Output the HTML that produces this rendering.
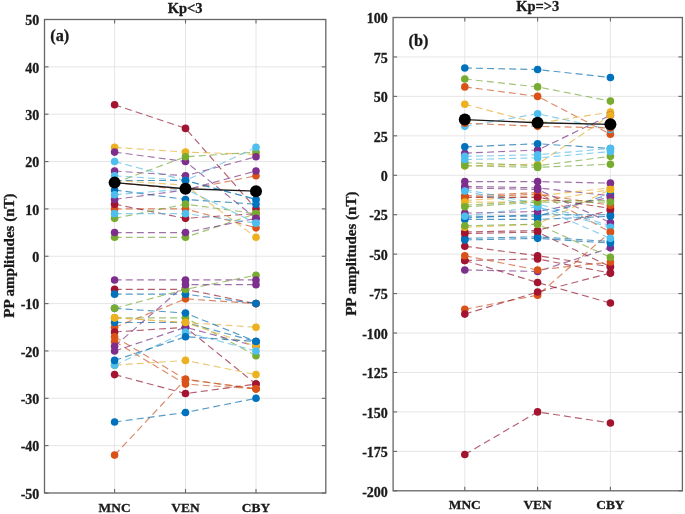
<!DOCTYPE html>
<html><head><meta charset="utf-8"><style>
html,body{margin:0;padding:0;background:#fff;}
body{width:685px;height:514px;overflow:hidden;}
svg{display:block;filter:blur(0.4px);}
text{font-family:"Liberation Serif",serif;font-weight:bold;fill:#1a1a1a;stroke:#1a1a1a;stroke-width:0.3px;}
</style></head><body>
<svg width="685" height="514" viewBox="0 0 685 514">
<rect width="685" height="514" fill="#fff"/>
<line x1="44.5" x2="325.8" y1="66.85" y2="66.85" stroke="#e6e6e6" stroke-width="1"/>
<line x1="44.5" x2="325.8" y1="114.20" y2="114.20" stroke="#e6e6e6" stroke-width="1"/>
<line x1="44.5" x2="325.8" y1="161.55" y2="161.55" stroke="#e6e6e6" stroke-width="1"/>
<line x1="44.5" x2="325.8" y1="208.90" y2="208.90" stroke="#e6e6e6" stroke-width="1"/>
<line x1="44.5" x2="325.8" y1="256.25" y2="256.25" stroke="#e6e6e6" stroke-width="1"/>
<line x1="44.5" x2="325.8" y1="303.60" y2="303.60" stroke="#e6e6e6" stroke-width="1"/>
<line x1="44.5" x2="325.8" y1="350.95" y2="350.95" stroke="#e6e6e6" stroke-width="1"/>
<line x1="44.5" x2="325.8" y1="398.30" y2="398.30" stroke="#e6e6e6" stroke-width="1"/>
<line x1="44.5" x2="325.8" y1="445.65" y2="445.65" stroke="#e6e6e6" stroke-width="1"/>
<line x1="114.6" x2="114.6" y1="19.5" y2="493.0" stroke="#e6e6e6" stroke-width="1"/>
<line x1="185.5" x2="185.5" y1="19.5" y2="493.0" stroke="#e6e6e6" stroke-width="1"/>
<line x1="256.0" x2="256.0" y1="19.5" y2="493.0" stroke="#e6e6e6" stroke-width="1"/>
<polyline points="114.6,104.73 185.5,128.41 256.0,208.90" fill="none" stroke="#941b32" stroke-width="1.15" stroke-dasharray="7 4.1" stroke-opacity="0.7"/>
<circle cx="114.6" cy="104.73" r="3.8" fill="#A2142F"/>
<circle cx="185.5" cy="128.41" r="3.8" fill="#A2142F"/>
<circle cx="256.0" cy="208.90" r="3.8" fill="#A2142F"/>
<polyline points="114.6,208.90 185.5,208.90 256.0,227.84" fill="none" stroke="#ca5827" stroke-width="1.15" stroke-dasharray="7 4.1" stroke-opacity="0.7"/>
<circle cx="114.6" cy="208.90" r="3.8" fill="#D95319"/>
<circle cx="185.5" cy="208.90" r="3.8" fill="#D95319"/>
<circle cx="256.0" cy="227.84" r="3.8" fill="#D95319"/>
<polyline points="114.6,147.34 185.5,152.08 256.0,154.45" fill="none" stroke="#e4b136" stroke-width="1.15" stroke-dasharray="7 4.1" stroke-opacity="0.7"/>
<circle cx="114.6" cy="147.34" r="3.8" fill="#EDB120"/>
<circle cx="185.5" cy="152.08" r="3.8" fill="#EDB120"/>
<circle cx="256.0" cy="154.45" r="3.8" fill="#EDB120"/>
<polyline points="114.6,152.08 185.5,161.55 256.0,218.37" fill="none" stroke="#773485" stroke-width="1.15" stroke-dasharray="7 4.1" stroke-opacity="0.7"/>
<circle cx="114.6" cy="152.08" r="3.8" fill="#7E2F8E"/>
<circle cx="185.5" cy="161.55" r="3.8" fill="#7E2F8E"/>
<circle cx="256.0" cy="218.37" r="3.8" fill="#7E2F8E"/>
<polyline points="114.6,182.86 185.5,156.81 256.0,152.08" fill="none" stroke="#7aa83e" stroke-width="1.15" stroke-dasharray="7 4.1" stroke-opacity="0.7"/>
<circle cx="114.6" cy="182.86" r="3.8" fill="#77AC30"/>
<circle cx="185.5" cy="156.81" r="3.8" fill="#77AC30"/>
<circle cx="256.0" cy="152.08" r="3.8" fill="#77AC30"/>
<polyline points="114.6,161.55 185.5,180.49 256.0,147.34" fill="none" stroke="#5abae3" stroke-width="1.15" stroke-dasharray="7 4.1" stroke-opacity="0.7"/>
<circle cx="114.6" cy="161.55" r="3.8" fill="#4DBEEE"/>
<circle cx="185.5" cy="180.49" r="3.8" fill="#4DBEEE"/>
<circle cx="256.0" cy="147.34" r="3.8" fill="#4DBEEE"/>
<polyline points="114.6,189.96 185.5,199.43 256.0,204.16" fill="none" stroke="#0d6eae" stroke-width="1.15" stroke-dasharray="7 4.1" stroke-opacity="0.7"/>
<circle cx="114.6" cy="189.96" r="3.8" fill="#0072BD"/>
<circle cx="185.5" cy="199.43" r="3.8" fill="#0072BD"/>
<circle cx="256.0" cy="204.16" r="3.8" fill="#0072BD"/>
<polyline points="114.6,204.16 185.5,218.37 256.0,213.63" fill="none" stroke="#941b32" stroke-width="1.15" stroke-dasharray="7 4.1" stroke-opacity="0.7"/>
<circle cx="114.6" cy="204.16" r="3.8" fill="#A2142F"/>
<circle cx="185.5" cy="218.37" r="3.8" fill="#A2142F"/>
<circle cx="256.0" cy="213.63" r="3.8" fill="#A2142F"/>
<polyline points="114.6,182.38 185.5,189.96 256.0,175.75" fill="none" stroke="#ca5827" stroke-width="1.15" stroke-dasharray="7 4.1" stroke-opacity="0.7"/>
<circle cx="114.6" cy="182.38" r="3.8" fill="#D95319"/>
<circle cx="185.5" cy="189.96" r="3.8" fill="#D95319"/>
<circle cx="256.0" cy="175.75" r="3.8" fill="#D95319"/>
<polyline points="114.6,180.49 185.5,185.22 256.0,237.31" fill="none" stroke="#e4b136" stroke-width="1.15" stroke-dasharray="7 4.1" stroke-opacity="0.7"/>
<circle cx="114.6" cy="180.49" r="3.8" fill="#EDB120"/>
<circle cx="185.5" cy="185.22" r="3.8" fill="#EDB120"/>
<circle cx="256.0" cy="237.31" r="3.8" fill="#EDB120"/>
<polyline points="114.6,171.02 185.5,175.75 256.0,156.81" fill="none" stroke="#773485" stroke-width="1.15" stroke-dasharray="7 4.1" stroke-opacity="0.7"/>
<circle cx="114.6" cy="171.02" r="3.8" fill="#7E2F8E"/>
<circle cx="185.5" cy="175.75" r="3.8" fill="#7E2F8E"/>
<circle cx="256.0" cy="156.81" r="3.8" fill="#7E2F8E"/>
<polyline points="114.6,218.37 185.5,204.16 256.0,213.63" fill="none" stroke="#7aa83e" stroke-width="1.15" stroke-dasharray="7 4.1" stroke-opacity="0.7"/>
<circle cx="114.6" cy="218.37" r="3.8" fill="#77AC30"/>
<circle cx="185.5" cy="204.16" r="3.8" fill="#77AC30"/>
<circle cx="256.0" cy="213.63" r="3.8" fill="#77AC30"/>
<polyline points="114.6,175.75 185.5,180.49 256.0,199.43" fill="none" stroke="#5abae3" stroke-width="1.15" stroke-dasharray="7 4.1" stroke-opacity="0.7"/>
<circle cx="114.6" cy="175.75" r="3.8" fill="#4DBEEE"/>
<circle cx="185.5" cy="180.49" r="3.8" fill="#4DBEEE"/>
<circle cx="256.0" cy="199.43" r="3.8" fill="#4DBEEE"/>
<polyline points="114.6,180.49 185.5,180.49 256.0,199.43" fill="none" stroke="#0d6eae" stroke-width="1.15" stroke-dasharray="7 4.1" stroke-opacity="0.7"/>
<circle cx="114.6" cy="180.49" r="3.8" fill="#0072BD"/>
<circle cx="185.5" cy="180.49" r="3.8" fill="#0072BD"/>
<circle cx="256.0" cy="199.43" r="3.8" fill="#0072BD"/>
<polyline points="114.6,289.39 185.5,289.39 256.0,303.60" fill="none" stroke="#941b32" stroke-width="1.15" stroke-dasharray="7 4.1" stroke-opacity="0.7"/>
<circle cx="114.6" cy="289.39" r="3.8" fill="#A2142F"/>
<circle cx="185.5" cy="289.39" r="3.8" fill="#A2142F"/>
<circle cx="256.0" cy="303.60" r="3.8" fill="#A2142F"/>
<polyline points="114.6,327.27 185.5,298.87 256.0,303.60" fill="none" stroke="#ca5827" stroke-width="1.15" stroke-dasharray="7 4.1" stroke-opacity="0.7"/>
<circle cx="114.6" cy="327.27" r="3.8" fill="#D95319"/>
<circle cx="185.5" cy="298.87" r="3.8" fill="#D95319"/>
<circle cx="256.0" cy="303.60" r="3.8" fill="#D95319"/>
<polyline points="114.6,322.54 185.5,322.54 256.0,341.48" fill="none" stroke="#0d6eae" stroke-width="1.15" stroke-dasharray="7 4.1" stroke-opacity="0.7"/>
<circle cx="114.6" cy="322.54" r="3.8" fill="#0072BD"/>
<circle cx="185.5" cy="322.54" r="3.8" fill="#0072BD"/>
<circle cx="256.0" cy="341.48" r="3.8" fill="#0072BD"/>
<polyline points="114.6,317.81 185.5,317.81 256.0,355.69" fill="none" stroke="#7aa83e" stroke-width="1.15" stroke-dasharray="7 4.1" stroke-opacity="0.7"/>
<circle cx="114.6" cy="317.81" r="3.8" fill="#77AC30"/>
<circle cx="185.5" cy="317.81" r="3.8" fill="#77AC30"/>
<circle cx="256.0" cy="355.69" r="3.8" fill="#77AC30"/>
<polyline points="114.6,317.81 185.5,322.54 256.0,327.27" fill="none" stroke="#e4b136" stroke-width="1.15" stroke-dasharray="7 4.1" stroke-opacity="0.7"/>
<circle cx="114.6" cy="317.81" r="3.8" fill="#EDB120"/>
<circle cx="185.5" cy="322.54" r="3.8" fill="#EDB120"/>
<circle cx="256.0" cy="327.27" r="3.8" fill="#EDB120"/>
<polyline points="114.6,199.43 185.5,189.96 256.0,171.02" fill="none" stroke="#773485" stroke-width="1.15" stroke-dasharray="7 4.1" stroke-opacity="0.7"/>
<circle cx="114.6" cy="199.43" r="3.8" fill="#7E2F8E"/>
<circle cx="185.5" cy="189.96" r="3.8" fill="#7E2F8E"/>
<circle cx="256.0" cy="171.02" r="3.8" fill="#7E2F8E"/>
<polyline points="114.6,237.31 185.5,237.31 256.0,213.63" fill="none" stroke="#7aa83e" stroke-width="1.15" stroke-dasharray="7 4.1" stroke-opacity="0.7"/>
<circle cx="114.6" cy="237.31" r="3.8" fill="#77AC30"/>
<circle cx="185.5" cy="237.31" r="3.8" fill="#77AC30"/>
<circle cx="256.0" cy="213.63" r="3.8" fill="#77AC30"/>
<polyline points="114.6,194.69 185.5,189.01 256.0,223.10" fill="none" stroke="#5abae3" stroke-width="1.15" stroke-dasharray="7 4.1" stroke-opacity="0.7"/>
<circle cx="114.6" cy="194.69" r="3.8" fill="#4DBEEE"/>
<circle cx="185.5" cy="189.01" r="3.8" fill="#4DBEEE"/>
<circle cx="256.0" cy="223.10" r="3.8" fill="#4DBEEE"/>
<polyline points="114.6,294.13 185.5,294.13 256.0,303.60" fill="none" stroke="#0d6eae" stroke-width="1.15" stroke-dasharray="7 4.1" stroke-opacity="0.7"/>
<circle cx="114.6" cy="294.13" r="3.8" fill="#0072BD"/>
<circle cx="185.5" cy="294.13" r="3.8" fill="#0072BD"/>
<circle cx="256.0" cy="303.60" r="3.8" fill="#0072BD"/>
<polyline points="114.6,332.01 185.5,327.27 256.0,384.10" fill="none" stroke="#941b32" stroke-width="1.15" stroke-dasharray="7 4.1" stroke-opacity="0.7"/>
<circle cx="114.6" cy="332.01" r="3.8" fill="#A2142F"/>
<circle cx="185.5" cy="327.27" r="3.8" fill="#A2142F"/>
<circle cx="256.0" cy="384.10" r="3.8" fill="#A2142F"/>
<polyline points="114.6,336.75 185.5,379.36 256.0,388.83" fill="none" stroke="#ca5827" stroke-width="1.15" stroke-dasharray="7 4.1" stroke-opacity="0.7"/>
<circle cx="114.6" cy="336.75" r="3.8" fill="#D95319"/>
<circle cx="185.5" cy="379.36" r="3.8" fill="#D95319"/>
<circle cx="256.0" cy="388.83" r="3.8" fill="#D95319"/>
<polyline points="114.6,365.15 185.5,360.42 256.0,374.62" fill="none" stroke="#e4b136" stroke-width="1.15" stroke-dasharray="7 4.1" stroke-opacity="0.7"/>
<circle cx="114.6" cy="365.15" r="3.8" fill="#EDB120"/>
<circle cx="185.5" cy="360.42" r="3.8" fill="#EDB120"/>
<circle cx="256.0" cy="374.62" r="3.8" fill="#EDB120"/>
<polyline points="114.6,232.57 185.5,232.57 256.0,218.37" fill="none" stroke="#773485" stroke-width="1.15" stroke-dasharray="7 4.1" stroke-opacity="0.7"/>
<circle cx="114.6" cy="232.57" r="3.8" fill="#7E2F8E"/>
<circle cx="185.5" cy="232.57" r="3.8" fill="#7E2F8E"/>
<circle cx="256.0" cy="218.37" r="3.8" fill="#7E2F8E"/>
<polyline points="114.6,308.33 185.5,313.07 256.0,341.48" fill="none" stroke="#0d6eae" stroke-width="1.15" stroke-dasharray="7 4.1" stroke-opacity="0.7"/>
<circle cx="114.6" cy="308.33" r="3.8" fill="#0072BD"/>
<circle cx="185.5" cy="313.07" r="3.8" fill="#0072BD"/>
<circle cx="256.0" cy="341.48" r="3.8" fill="#0072BD"/>
<polyline points="114.6,308.33 185.5,289.39 256.0,275.19" fill="none" stroke="#7aa83e" stroke-width="1.15" stroke-dasharray="7 4.1" stroke-opacity="0.7"/>
<circle cx="114.6" cy="308.33" r="3.8" fill="#77AC30"/>
<circle cx="185.5" cy="289.39" r="3.8" fill="#77AC30"/>
<circle cx="256.0" cy="275.19" r="3.8" fill="#77AC30"/>
<polyline points="114.6,213.63 185.5,213.63 256.0,223.10" fill="none" stroke="#5abae3" stroke-width="1.15" stroke-dasharray="7 4.1" stroke-opacity="0.7"/>
<circle cx="114.6" cy="213.63" r="3.8" fill="#4DBEEE"/>
<circle cx="185.5" cy="213.63" r="3.8" fill="#4DBEEE"/>
<circle cx="256.0" cy="223.10" r="3.8" fill="#4DBEEE"/>
<polyline points="114.6,374.62 185.5,393.56 256.0,384.10" fill="none" stroke="#941b32" stroke-width="1.15" stroke-dasharray="7 4.1" stroke-opacity="0.7"/>
<circle cx="114.6" cy="374.62" r="3.8" fill="#A2142F"/>
<circle cx="185.5" cy="393.56" r="3.8" fill="#A2142F"/>
<circle cx="256.0" cy="384.10" r="3.8" fill="#A2142F"/>
<polyline points="114.6,341.48 185.5,384.10 256.0,388.83" fill="none" stroke="#ca5827" stroke-width="1.15" stroke-dasharray="7 4.1" stroke-opacity="0.7"/>
<circle cx="114.6" cy="341.48" r="3.8" fill="#D95319"/>
<circle cx="185.5" cy="384.10" r="3.8" fill="#D95319"/>
<circle cx="256.0" cy="388.83" r="3.8" fill="#D95319"/>
<polyline points="114.6,350.95 185.5,327.27 256.0,346.21" fill="none" stroke="#773485" stroke-width="1.15" stroke-dasharray="7 4.1" stroke-opacity="0.7"/>
<circle cx="114.6" cy="350.95" r="3.8" fill="#7E2F8E"/>
<circle cx="185.5" cy="327.27" r="3.8" fill="#7E2F8E"/>
<circle cx="256.0" cy="346.21" r="3.8" fill="#7E2F8E"/>
<polyline points="114.6,317.81 185.5,322.54 256.0,346.21" fill="none" stroke="#e4b136" stroke-width="1.15" stroke-dasharray="7 4.1" stroke-opacity="0.7"/>
<circle cx="114.6" cy="317.81" r="3.8" fill="#EDB120"/>
<circle cx="185.5" cy="322.54" r="3.8" fill="#EDB120"/>
<circle cx="256.0" cy="346.21" r="3.8" fill="#EDB120"/>
<polyline points="114.6,279.93 185.5,279.93 256.0,279.93" fill="none" stroke="#773485" stroke-width="1.15" stroke-dasharray="7 4.1" stroke-opacity="0.7"/>
<circle cx="114.6" cy="279.93" r="3.8" fill="#7E2F8E"/>
<circle cx="185.5" cy="279.93" r="3.8" fill="#7E2F8E"/>
<circle cx="256.0" cy="279.93" r="3.8" fill="#7E2F8E"/>
<polyline points="114.6,365.15 185.5,332.01 256.0,350.95" fill="none" stroke="#5abae3" stroke-width="1.15" stroke-dasharray="7 4.1" stroke-opacity="0.7"/>
<circle cx="114.6" cy="365.15" r="3.8" fill="#4DBEEE"/>
<circle cx="185.5" cy="332.01" r="3.8" fill="#4DBEEE"/>
<circle cx="256.0" cy="350.95" r="3.8" fill="#4DBEEE"/>
<polyline points="114.6,360.42 185.5,336.75 256.0,341.48" fill="none" stroke="#0d6eae" stroke-width="1.15" stroke-dasharray="7 4.1" stroke-opacity="0.7"/>
<circle cx="114.6" cy="360.42" r="3.8" fill="#0072BD"/>
<circle cx="185.5" cy="336.75" r="3.8" fill="#0072BD"/>
<circle cx="256.0" cy="341.48" r="3.8" fill="#0072BD"/>
<polyline points="114.6,455.12 185.5,379.36 256.0,388.83" fill="none" stroke="#ca5827" stroke-width="1.15" stroke-dasharray="7 4.1" stroke-opacity="0.7"/>
<circle cx="114.6" cy="455.12" r="3.8" fill="#D95319"/>
<circle cx="185.5" cy="379.36" r="3.8" fill="#D95319"/>
<circle cx="256.0" cy="388.83" r="3.8" fill="#D95319"/>
<polyline points="114.6,346.21 185.5,284.66 256.0,284.66" fill="none" stroke="#773485" stroke-width="1.15" stroke-dasharray="7 4.1" stroke-opacity="0.7"/>
<circle cx="114.6" cy="346.21" r="3.8" fill="#7E2F8E"/>
<circle cx="185.5" cy="284.66" r="3.8" fill="#7E2F8E"/>
<circle cx="256.0" cy="284.66" r="3.8" fill="#7E2F8E"/>
<polyline points="114.6,421.98 185.5,412.50 256.0,398.30" fill="none" stroke="#0d6eae" stroke-width="1.15" stroke-dasharray="7 4.1" stroke-opacity="0.7"/>
<circle cx="114.6" cy="421.98" r="3.8" fill="#0072BD"/>
<circle cx="185.5" cy="412.50" r="3.8" fill="#0072BD"/>
<circle cx="256.0" cy="398.30" r="3.8" fill="#0072BD"/>
<polyline points="114.6,182.62 185.5,188.78 256.0,191.14" fill="none" stroke="#1a1a1a" stroke-width="1.35"/>
<circle cx="114.6" cy="182.62" r="6.0" fill="#000"/>
<circle cx="185.5" cy="188.78" r="6.0" fill="#000"/>
<circle cx="256.0" cy="191.14" r="6.0" fill="#000"/>
<line x1="44.5" x2="48.5" y1="19.50" y2="19.50" stroke="#666666" stroke-width="1.1"/>
<line x1="321.8" x2="325.8" y1="19.50" y2="19.50" stroke="#666666" stroke-width="1.1"/>
<line x1="44.5" x2="48.5" y1="66.85" y2="66.85" stroke="#666666" stroke-width="1.1"/>
<line x1="321.8" x2="325.8" y1="66.85" y2="66.85" stroke="#666666" stroke-width="1.1"/>
<line x1="44.5" x2="48.5" y1="114.20" y2="114.20" stroke="#666666" stroke-width="1.1"/>
<line x1="321.8" x2="325.8" y1="114.20" y2="114.20" stroke="#666666" stroke-width="1.1"/>
<line x1="44.5" x2="48.5" y1="161.55" y2="161.55" stroke="#666666" stroke-width="1.1"/>
<line x1="321.8" x2="325.8" y1="161.55" y2="161.55" stroke="#666666" stroke-width="1.1"/>
<line x1="44.5" x2="48.5" y1="208.90" y2="208.90" stroke="#666666" stroke-width="1.1"/>
<line x1="321.8" x2="325.8" y1="208.90" y2="208.90" stroke="#666666" stroke-width="1.1"/>
<line x1="44.5" x2="48.5" y1="256.25" y2="256.25" stroke="#666666" stroke-width="1.1"/>
<line x1="321.8" x2="325.8" y1="256.25" y2="256.25" stroke="#666666" stroke-width="1.1"/>
<line x1="44.5" x2="48.5" y1="303.60" y2="303.60" stroke="#666666" stroke-width="1.1"/>
<line x1="321.8" x2="325.8" y1="303.60" y2="303.60" stroke="#666666" stroke-width="1.1"/>
<line x1="44.5" x2="48.5" y1="350.95" y2="350.95" stroke="#666666" stroke-width="1.1"/>
<line x1="321.8" x2="325.8" y1="350.95" y2="350.95" stroke="#666666" stroke-width="1.1"/>
<line x1="44.5" x2="48.5" y1="398.30" y2="398.30" stroke="#666666" stroke-width="1.1"/>
<line x1="321.8" x2="325.8" y1="398.30" y2="398.30" stroke="#666666" stroke-width="1.1"/>
<line x1="44.5" x2="48.5" y1="445.65" y2="445.65" stroke="#666666" stroke-width="1.1"/>
<line x1="321.8" x2="325.8" y1="445.65" y2="445.65" stroke="#666666" stroke-width="1.1"/>
<line x1="44.5" x2="48.5" y1="493.00" y2="493.00" stroke="#666666" stroke-width="1.1"/>
<line x1="321.8" x2="325.8" y1="493.00" y2="493.00" stroke="#666666" stroke-width="1.1"/>
<line x1="114.6" x2="114.6" y1="489.0" y2="493.0" stroke="#666666" stroke-width="1.1"/>
<line x1="114.6" x2="114.6" y1="19.5" y2="23.5" stroke="#666666" stroke-width="1.1"/>
<line x1="185.5" x2="185.5" y1="489.0" y2="493.0" stroke="#666666" stroke-width="1.1"/>
<line x1="185.5" x2="185.5" y1="19.5" y2="23.5" stroke="#666666" stroke-width="1.1"/>
<line x1="256.0" x2="256.0" y1="489.0" y2="493.0" stroke="#666666" stroke-width="1.1"/>
<line x1="256.0" x2="256.0" y1="19.5" y2="23.5" stroke="#666666" stroke-width="1.1"/>
<rect x="44.5" y="19.5" width="281.30" height="473.50" fill="none" stroke="#666666" stroke-width="1.3"/>
<text x="39.3" y="25.20" text-anchor="end" font-size="14">50</text>
<text x="39.3" y="72.55" text-anchor="end" font-size="14">40</text>
<text x="39.3" y="119.90" text-anchor="end" font-size="14">30</text>
<text x="39.3" y="167.25" text-anchor="end" font-size="14">20</text>
<text x="39.3" y="214.60" text-anchor="end" font-size="14">10</text>
<text x="39.3" y="261.95" text-anchor="end" font-size="14">0</text>
<text x="39.3" y="309.30" text-anchor="end" font-size="14">-10</text>
<text x="39.3" y="356.65" text-anchor="end" font-size="14">-20</text>
<text x="39.3" y="404.00" text-anchor="end" font-size="14">-30</text>
<text x="39.3" y="451.35" text-anchor="end" font-size="14">-40</text>
<text x="39.3" y="498.70" text-anchor="end" font-size="14">-50</text>
<text x="114.6" y="511.50" text-anchor="middle" font-size="13.4">MNC</text>
<text x="185.5" y="511.50" text-anchor="middle" font-size="13.4">VEN</text>
<text x="256.0" y="511.50" text-anchor="middle" font-size="13.4">CBY</text>
<text x="185.15" y="13.30" text-anchor="middle" font-size="14.5">Kp&lt;3</text>
<text x="50.3" y="41.2" font-size="16.3">(a)</text>
<text transform="translate(13.9,255.6) rotate(-90)" text-anchor="middle" font-size="15">PP amplitudes (nT)</text>
<line x1="393.1" x2="682.4" y1="56.94" y2="56.94" stroke="#e6e6e6" stroke-width="1"/>
<line x1="393.1" x2="682.4" y1="96.38" y2="96.38" stroke="#e6e6e6" stroke-width="1"/>
<line x1="393.1" x2="682.4" y1="135.82" y2="135.82" stroke="#e6e6e6" stroke-width="1"/>
<line x1="393.1" x2="682.4" y1="175.27" y2="175.27" stroke="#e6e6e6" stroke-width="1"/>
<line x1="393.1" x2="682.4" y1="214.71" y2="214.71" stroke="#e6e6e6" stroke-width="1"/>
<line x1="393.1" x2="682.4" y1="254.15" y2="254.15" stroke="#e6e6e6" stroke-width="1"/>
<line x1="393.1" x2="682.4" y1="293.59" y2="293.59" stroke="#e6e6e6" stroke-width="1"/>
<line x1="393.1" x2="682.4" y1="333.03" y2="333.03" stroke="#e6e6e6" stroke-width="1"/>
<line x1="393.1" x2="682.4" y1="372.48" y2="372.48" stroke="#e6e6e6" stroke-width="1"/>
<line x1="393.1" x2="682.4" y1="411.92" y2="411.92" stroke="#e6e6e6" stroke-width="1"/>
<line x1="393.1" x2="682.4" y1="451.36" y2="451.36" stroke="#e6e6e6" stroke-width="1"/>
<line x1="464.8" x2="464.8" y1="17.5" y2="490.8" stroke="#e6e6e6" stroke-width="1"/>
<line x1="537.6" x2="537.6" y1="17.5" y2="490.8" stroke="#e6e6e6" stroke-width="1"/>
<line x1="610.4" x2="610.4" y1="17.5" y2="490.8" stroke="#e6e6e6" stroke-width="1"/>
<polyline points="464.8,195.78 537.6,192.62 610.4,232.06" fill="none" stroke="#ca5827" stroke-width="1.15" stroke-dasharray="7 4.1" stroke-opacity="0.7"/>
<circle cx="464.8" cy="195.78" r="3.8" fill="#D95319"/>
<circle cx="537.6" cy="192.62" r="3.8" fill="#D95319"/>
<circle cx="610.4" cy="232.06" r="3.8" fill="#D95319"/>
<polyline points="464.8,189.47 537.6,203.66 610.4,225.75" fill="none" stroke="#5abae3" stroke-width="1.15" stroke-dasharray="7 4.1" stroke-opacity="0.7"/>
<circle cx="464.8" cy="189.47" r="3.8" fill="#4DBEEE"/>
<circle cx="537.6" cy="203.66" r="3.8" fill="#4DBEEE"/>
<circle cx="610.4" cy="225.75" r="3.8" fill="#4DBEEE"/>
<polyline points="464.8,217.86 537.6,214.71 610.4,214.71" fill="none" stroke="#0d6eae" stroke-width="1.15" stroke-dasharray="7 4.1" stroke-opacity="0.7"/>
<circle cx="464.8" cy="217.86" r="3.8" fill="#0072BD"/>
<circle cx="537.6" cy="214.71" r="3.8" fill="#0072BD"/>
<circle cx="610.4" cy="214.71" r="3.8" fill="#0072BD"/>
<polyline points="464.8,205.24 537.6,200.51 610.4,200.51" fill="none" stroke="#7aa83e" stroke-width="1.15" stroke-dasharray="7 4.1" stroke-opacity="0.7"/>
<circle cx="464.8" cy="205.24" r="3.8" fill="#77AC30"/>
<circle cx="537.6" cy="200.51" r="3.8" fill="#77AC30"/>
<circle cx="610.4" cy="200.51" r="3.8" fill="#77AC30"/>
<polyline points="464.8,186.31 537.6,187.89 610.4,195.78" fill="none" stroke="#773485" stroke-width="1.15" stroke-dasharray="7 4.1" stroke-opacity="0.7"/>
<circle cx="464.8" cy="186.31" r="3.8" fill="#7E2F8E"/>
<circle cx="537.6" cy="187.89" r="3.8" fill="#7E2F8E"/>
<circle cx="610.4" cy="195.78" r="3.8" fill="#7E2F8E"/>
<polyline points="464.8,200.51 537.6,195.78 610.4,187.89" fill="none" stroke="#e4b136" stroke-width="1.15" stroke-dasharray="7 4.1" stroke-opacity="0.7"/>
<circle cx="464.8" cy="200.51" r="3.8" fill="#EDB120"/>
<circle cx="537.6" cy="195.78" r="3.8" fill="#EDB120"/>
<circle cx="610.4" cy="187.89" r="3.8" fill="#EDB120"/>
<polyline points="464.8,232.06 537.6,230.49 610.4,209.98" fill="none" stroke="#941b32" stroke-width="1.15" stroke-dasharray="7 4.1" stroke-opacity="0.7"/>
<circle cx="464.8" cy="232.06" r="3.8" fill="#A2142F"/>
<circle cx="537.6" cy="230.49" r="3.8" fill="#A2142F"/>
<circle cx="610.4" cy="209.98" r="3.8" fill="#A2142F"/>
<polyline points="464.8,238.37 537.6,236.80 610.4,241.53" fill="none" stroke="#0d6eae" stroke-width="1.15" stroke-dasharray="7 4.1" stroke-opacity="0.7"/>
<circle cx="464.8" cy="238.37" r="3.8" fill="#0072BD"/>
<circle cx="537.6" cy="236.80" r="3.8" fill="#0072BD"/>
<circle cx="610.4" cy="241.53" r="3.8" fill="#0072BD"/>
<polyline points="464.8,67.99 537.6,69.56 610.4,77.45" fill="none" stroke="#0d6eae" stroke-width="1.15" stroke-dasharray="7 4.1" stroke-opacity="0.7"/>
<circle cx="464.8" cy="67.99" r="3.8" fill="#0072BD"/>
<circle cx="537.6" cy="69.56" r="3.8" fill="#0072BD"/>
<circle cx="610.4" cy="77.45" r="3.8" fill="#0072BD"/>
<polyline points="464.8,86.92 537.6,96.38 610.4,134.25" fill="none" stroke="#ca5827" stroke-width="1.15" stroke-dasharray="7 4.1" stroke-opacity="0.7"/>
<circle cx="464.8" cy="86.92" r="3.8" fill="#D95319"/>
<circle cx="537.6" cy="96.38" r="3.8" fill="#D95319"/>
<circle cx="610.4" cy="134.25" r="3.8" fill="#D95319"/>
<polyline points="464.8,104.27 537.6,123.20 610.4,112.16" fill="none" stroke="#e4b136" stroke-width="1.15" stroke-dasharray="7 4.1" stroke-opacity="0.7"/>
<circle cx="464.8" cy="104.27" r="3.8" fill="#EDB120"/>
<circle cx="537.6" cy="123.20" r="3.8" fill="#EDB120"/>
<circle cx="610.4" cy="112.16" r="3.8" fill="#EDB120"/>
<polyline points="464.8,153.18 537.6,150.02 610.4,115.32" fill="none" stroke="#773485" stroke-width="1.15" stroke-dasharray="7 4.1" stroke-opacity="0.7"/>
<circle cx="464.8" cy="153.18" r="3.8" fill="#7E2F8E"/>
<circle cx="537.6" cy="150.02" r="3.8" fill="#7E2F8E"/>
<circle cx="610.4" cy="115.32" r="3.8" fill="#7E2F8E"/>
<polyline points="464.8,79.03 537.6,86.92 610.4,101.12" fill="none" stroke="#7aa83e" stroke-width="1.15" stroke-dasharray="7 4.1" stroke-opacity="0.7"/>
<circle cx="464.8" cy="79.03" r="3.8" fill="#77AC30"/>
<circle cx="537.6" cy="86.92" r="3.8" fill="#77AC30"/>
<circle cx="610.4" cy="101.12" r="3.8" fill="#77AC30"/>
<polyline points="464.8,126.36 537.6,113.74 610.4,129.51" fill="none" stroke="#5abae3" stroke-width="1.15" stroke-dasharray="7 4.1" stroke-opacity="0.7"/>
<circle cx="464.8" cy="126.36" r="3.8" fill="#4DBEEE"/>
<circle cx="537.6" cy="113.74" r="3.8" fill="#4DBEEE"/>
<circle cx="610.4" cy="129.51" r="3.8" fill="#4DBEEE"/>
<polyline points="464.8,233.64 537.6,232.06 610.4,266.77" fill="none" stroke="#941b32" stroke-width="1.15" stroke-dasharray="7 4.1" stroke-opacity="0.7"/>
<circle cx="464.8" cy="233.64" r="3.8" fill="#A2142F"/>
<circle cx="537.6" cy="232.06" r="3.8" fill="#A2142F"/>
<circle cx="610.4" cy="266.77" r="3.8" fill="#A2142F"/>
<polyline points="464.8,146.87 537.6,143.71 610.4,148.45" fill="none" stroke="#0d6eae" stroke-width="1.15" stroke-dasharray="7 4.1" stroke-opacity="0.7"/>
<circle cx="464.8" cy="146.87" r="3.8" fill="#0072BD"/>
<circle cx="537.6" cy="143.71" r="3.8" fill="#0072BD"/>
<circle cx="610.4" cy="148.45" r="3.8" fill="#0072BD"/>
<polyline points="464.8,123.20 537.6,126.36 610.4,127.94" fill="none" stroke="#ca5827" stroke-width="1.15" stroke-dasharray="7 4.1" stroke-opacity="0.7"/>
<circle cx="464.8" cy="123.20" r="3.8" fill="#D95319"/>
<circle cx="537.6" cy="126.36" r="3.8" fill="#D95319"/>
<circle cx="610.4" cy="127.94" r="3.8" fill="#D95319"/>
<polyline points="464.8,165.80 537.6,164.22 610.4,115.32" fill="none" stroke="#e4b136" stroke-width="1.15" stroke-dasharray="7 4.1" stroke-opacity="0.7"/>
<circle cx="464.8" cy="165.80" r="3.8" fill="#EDB120"/>
<circle cx="537.6" cy="164.22" r="3.8" fill="#EDB120"/>
<circle cx="610.4" cy="115.32" r="3.8" fill="#EDB120"/>
<polyline points="464.8,181.58 537.6,181.58 610.4,183.16" fill="none" stroke="#773485" stroke-width="1.15" stroke-dasharray="7 4.1" stroke-opacity="0.7"/>
<circle cx="464.8" cy="181.58" r="3.8" fill="#7E2F8E"/>
<circle cx="537.6" cy="181.58" r="3.8" fill="#7E2F8E"/>
<circle cx="610.4" cy="183.16" r="3.8" fill="#7E2F8E"/>
<polyline points="464.8,165.80 537.6,167.38 610.4,164.22" fill="none" stroke="#7aa83e" stroke-width="1.15" stroke-dasharray="7 4.1" stroke-opacity="0.7"/>
<circle cx="464.8" cy="165.80" r="3.8" fill="#77AC30"/>
<circle cx="537.6" cy="167.38" r="3.8" fill="#77AC30"/>
<circle cx="610.4" cy="164.22" r="3.8" fill="#77AC30"/>
<polyline points="464.8,156.33 537.6,154.76 610.4,148.45" fill="none" stroke="#5abae3" stroke-width="1.15" stroke-dasharray="7 4.1" stroke-opacity="0.7"/>
<circle cx="464.8" cy="156.33" r="3.8" fill="#4DBEEE"/>
<circle cx="537.6" cy="154.76" r="3.8" fill="#4DBEEE"/>
<circle cx="610.4" cy="148.45" r="3.8" fill="#4DBEEE"/>
<polyline points="464.8,246.26 537.6,255.73 610.4,266.77" fill="none" stroke="#941b32" stroke-width="1.15" stroke-dasharray="7 4.1" stroke-opacity="0.7"/>
<circle cx="464.8" cy="246.26" r="3.8" fill="#A2142F"/>
<circle cx="537.6" cy="255.73" r="3.8" fill="#A2142F"/>
<circle cx="610.4" cy="266.77" r="3.8" fill="#A2142F"/>
<polyline points="464.8,216.29 537.6,216.29 610.4,194.20" fill="none" stroke="#0d6eae" stroke-width="1.15" stroke-dasharray="7 4.1" stroke-opacity="0.7"/>
<circle cx="464.8" cy="216.29" r="3.8" fill="#0072BD"/>
<circle cx="537.6" cy="216.29" r="3.8" fill="#0072BD"/>
<circle cx="610.4" cy="194.20" r="3.8" fill="#0072BD"/>
<polyline points="464.8,197.35 537.6,197.35 610.4,208.40" fill="none" stroke="#941b32" stroke-width="1.15" stroke-dasharray="7 4.1" stroke-opacity="0.7"/>
<circle cx="464.8" cy="197.35" r="3.8" fill="#A2142F"/>
<circle cx="537.6" cy="197.35" r="3.8" fill="#A2142F"/>
<circle cx="610.4" cy="208.40" r="3.8" fill="#A2142F"/>
<polyline points="464.8,197.35 537.6,194.20 610.4,205.24" fill="none" stroke="#ca5827" stroke-width="1.15" stroke-dasharray="7 4.1" stroke-opacity="0.7"/>
<circle cx="464.8" cy="197.35" r="3.8" fill="#D95319"/>
<circle cx="537.6" cy="194.20" r="3.8" fill="#D95319"/>
<circle cx="610.4" cy="205.24" r="3.8" fill="#D95319"/>
<polyline points="464.8,202.09 537.6,202.09 610.4,189.47" fill="none" stroke="#e4b136" stroke-width="1.15" stroke-dasharray="7 4.1" stroke-opacity="0.7"/>
<circle cx="464.8" cy="202.09" r="3.8" fill="#EDB120"/>
<circle cx="537.6" cy="202.09" r="3.8" fill="#EDB120"/>
<circle cx="610.4" cy="189.47" r="3.8" fill="#EDB120"/>
<polyline points="464.8,187.89 537.6,189.47 610.4,222.60" fill="none" stroke="#773485" stroke-width="1.15" stroke-dasharray="7 4.1" stroke-opacity="0.7"/>
<circle cx="464.8" cy="187.89" r="3.8" fill="#7E2F8E"/>
<circle cx="537.6" cy="189.47" r="3.8" fill="#7E2F8E"/>
<circle cx="610.4" cy="222.60" r="3.8" fill="#7E2F8E"/>
<polyline points="464.8,162.65 537.6,165.80 610.4,156.33" fill="none" stroke="#7aa83e" stroke-width="1.15" stroke-dasharray="7 4.1" stroke-opacity="0.7"/>
<circle cx="464.8" cy="162.65" r="3.8" fill="#77AC30"/>
<circle cx="537.6" cy="165.80" r="3.8" fill="#77AC30"/>
<circle cx="610.4" cy="156.33" r="3.8" fill="#77AC30"/>
<polyline points="464.8,159.49 537.6,157.91 610.4,151.60" fill="none" stroke="#5abae3" stroke-width="1.15" stroke-dasharray="7 4.1" stroke-opacity="0.7"/>
<circle cx="464.8" cy="159.49" r="3.8" fill="#4DBEEE"/>
<circle cx="537.6" cy="157.91" r="3.8" fill="#4DBEEE"/>
<circle cx="610.4" cy="151.60" r="3.8" fill="#4DBEEE"/>
<polyline points="464.8,260.46 537.6,282.55 610.4,303.06" fill="none" stroke="#941b32" stroke-width="1.15" stroke-dasharray="7 4.1" stroke-opacity="0.7"/>
<circle cx="464.8" cy="260.46" r="3.8" fill="#A2142F"/>
<circle cx="537.6" cy="282.55" r="3.8" fill="#A2142F"/>
<circle cx="610.4" cy="303.06" r="3.8" fill="#A2142F"/>
<polyline points="464.8,219.44 537.6,219.44 610.4,216.29" fill="none" stroke="#0d6eae" stroke-width="1.15" stroke-dasharray="7 4.1" stroke-opacity="0.7"/>
<circle cx="464.8" cy="219.44" r="3.8" fill="#0072BD"/>
<circle cx="537.6" cy="219.44" r="3.8" fill="#0072BD"/>
<circle cx="610.4" cy="216.29" r="3.8" fill="#0072BD"/>
<polyline points="464.8,260.46 537.6,258.88 610.4,273.08" fill="none" stroke="#941b32" stroke-width="1.15" stroke-dasharray="7 4.1" stroke-opacity="0.7"/>
<circle cx="464.8" cy="260.46" r="3.8" fill="#A2142F"/>
<circle cx="537.6" cy="258.88" r="3.8" fill="#A2142F"/>
<circle cx="610.4" cy="273.08" r="3.8" fill="#A2142F"/>
<polyline points="464.8,269.93 537.6,271.50 610.4,247.84" fill="none" stroke="#773485" stroke-width="1.15" stroke-dasharray="7 4.1" stroke-opacity="0.7"/>
<circle cx="464.8" cy="269.93" r="3.8" fill="#7E2F8E"/>
<circle cx="537.6" cy="271.50" r="3.8" fill="#7E2F8E"/>
<circle cx="610.4" cy="247.84" r="3.8" fill="#7E2F8E"/>
<polyline points="464.8,255.73 537.6,269.93 610.4,262.04" fill="none" stroke="#ca5827" stroke-width="1.15" stroke-dasharray="7 4.1" stroke-opacity="0.7"/>
<circle cx="464.8" cy="255.73" r="3.8" fill="#D95319"/>
<circle cx="537.6" cy="269.93" r="3.8" fill="#D95319"/>
<circle cx="610.4" cy="262.04" r="3.8" fill="#D95319"/>
<polyline points="464.8,227.33 537.6,224.17 610.4,189.47" fill="none" stroke="#e4b136" stroke-width="1.15" stroke-dasharray="7 4.1" stroke-opacity="0.7"/>
<circle cx="464.8" cy="227.33" r="3.8" fill="#EDB120"/>
<circle cx="537.6" cy="224.17" r="3.8" fill="#EDB120"/>
<circle cx="610.4" cy="189.47" r="3.8" fill="#EDB120"/>
<polyline points="464.8,213.13 537.6,211.55 610.4,197.35" fill="none" stroke="#773485" stroke-width="1.15" stroke-dasharray="7 4.1" stroke-opacity="0.7"/>
<circle cx="464.8" cy="213.13" r="3.8" fill="#7E2F8E"/>
<circle cx="537.6" cy="211.55" r="3.8" fill="#7E2F8E"/>
<circle cx="610.4" cy="197.35" r="3.8" fill="#7E2F8E"/>
<polyline points="464.8,191.04 537.6,206.82 610.4,227.33" fill="none" stroke="#5abae3" stroke-width="1.15" stroke-dasharray="7 4.1" stroke-opacity="0.7"/>
<circle cx="464.8" cy="191.04" r="3.8" fill="#4DBEEE"/>
<circle cx="537.6" cy="206.82" r="3.8" fill="#4DBEEE"/>
<circle cx="610.4" cy="227.33" r="3.8" fill="#4DBEEE"/>
<polyline points="464.8,309.37 537.6,295.17 610.4,232.06" fill="none" stroke="#ca5827" stroke-width="1.15" stroke-dasharray="7 4.1" stroke-opacity="0.7"/>
<circle cx="464.8" cy="309.37" r="3.8" fill="#D95319"/>
<circle cx="537.6" cy="295.17" r="3.8" fill="#D95319"/>
<circle cx="610.4" cy="232.06" r="3.8" fill="#D95319"/>
<polyline points="464.8,314.10 537.6,292.01 610.4,273.08" fill="none" stroke="#941b32" stroke-width="1.15" stroke-dasharray="7 4.1" stroke-opacity="0.7"/>
<circle cx="464.8" cy="314.10" r="3.8" fill="#A2142F"/>
<circle cx="537.6" cy="292.01" r="3.8" fill="#A2142F"/>
<circle cx="610.4" cy="273.08" r="3.8" fill="#A2142F"/>
<polyline points="464.8,239.95 537.6,238.37 610.4,243.11" fill="none" stroke="#0d6eae" stroke-width="1.15" stroke-dasharray="7 4.1" stroke-opacity="0.7"/>
<circle cx="464.8" cy="239.95" r="3.8" fill="#0072BD"/>
<circle cx="537.6" cy="238.37" r="3.8" fill="#0072BD"/>
<circle cx="610.4" cy="243.11" r="3.8" fill="#0072BD"/>
<polyline points="464.8,225.75 537.6,224.17 610.4,257.31" fill="none" stroke="#7aa83e" stroke-width="1.15" stroke-dasharray="7 4.1" stroke-opacity="0.7"/>
<circle cx="464.8" cy="225.75" r="3.8" fill="#77AC30"/>
<circle cx="537.6" cy="224.17" r="3.8" fill="#77AC30"/>
<circle cx="610.4" cy="257.31" r="3.8" fill="#77AC30"/>
<polyline points="464.8,216.29 537.6,206.82 610.4,238.37" fill="none" stroke="#5abae3" stroke-width="1.15" stroke-dasharray="7 4.1" stroke-opacity="0.7"/>
<circle cx="464.8" cy="216.29" r="3.8" fill="#4DBEEE"/>
<circle cx="537.6" cy="206.82" r="3.8" fill="#4DBEEE"/>
<circle cx="610.4" cy="238.37" r="3.8" fill="#4DBEEE"/>
<polyline points="464.8,454.51 537.6,411.92 610.4,422.96" fill="none" stroke="#941b32" stroke-width="1.15" stroke-dasharray="7 4.1" stroke-opacity="0.7"/>
<circle cx="464.8" cy="454.51" r="3.8" fill="#A2142F"/>
<circle cx="537.6" cy="411.92" r="3.8" fill="#A2142F"/>
<circle cx="610.4" cy="422.96" r="3.8" fill="#A2142F"/>
<polyline points="464.8,206.82 537.6,202.09 610.4,202.09" fill="none" stroke="#7aa83e" stroke-width="1.15" stroke-dasharray="7 4.1" stroke-opacity="0.7"/>
<circle cx="464.8" cy="206.82" r="3.8" fill="#77AC30"/>
<circle cx="537.6" cy="202.09" r="3.8" fill="#77AC30"/>
<circle cx="610.4" cy="202.09" r="3.8" fill="#77AC30"/>
<circle cx="537.6" cy="197.35" r="3.8" fill="#A2142F"/>
<polyline points="464.8,119.58 537.6,122.73 610.4,124.31" fill="none" stroke="#1a1a1a" stroke-width="1.35"/>
<circle cx="464.8" cy="119.58" r="6.0" fill="#000"/>
<circle cx="537.6" cy="122.73" r="6.0" fill="#000"/>
<circle cx="610.4" cy="124.31" r="6.0" fill="#000"/>
<line x1="393.1" x2="397.1" y1="17.50" y2="17.50" stroke="#666666" stroke-width="1.1"/>
<line x1="678.4" x2="682.4" y1="17.50" y2="17.50" stroke="#666666" stroke-width="1.1"/>
<line x1="393.1" x2="397.1" y1="56.94" y2="56.94" stroke="#666666" stroke-width="1.1"/>
<line x1="678.4" x2="682.4" y1="56.94" y2="56.94" stroke="#666666" stroke-width="1.1"/>
<line x1="393.1" x2="397.1" y1="96.38" y2="96.38" stroke="#666666" stroke-width="1.1"/>
<line x1="678.4" x2="682.4" y1="96.38" y2="96.38" stroke="#666666" stroke-width="1.1"/>
<line x1="393.1" x2="397.1" y1="135.82" y2="135.82" stroke="#666666" stroke-width="1.1"/>
<line x1="678.4" x2="682.4" y1="135.82" y2="135.82" stroke="#666666" stroke-width="1.1"/>
<line x1="393.1" x2="397.1" y1="175.27" y2="175.27" stroke="#666666" stroke-width="1.1"/>
<line x1="678.4" x2="682.4" y1="175.27" y2="175.27" stroke="#666666" stroke-width="1.1"/>
<line x1="393.1" x2="397.1" y1="214.71" y2="214.71" stroke="#666666" stroke-width="1.1"/>
<line x1="678.4" x2="682.4" y1="214.71" y2="214.71" stroke="#666666" stroke-width="1.1"/>
<line x1="393.1" x2="397.1" y1="254.15" y2="254.15" stroke="#666666" stroke-width="1.1"/>
<line x1="678.4" x2="682.4" y1="254.15" y2="254.15" stroke="#666666" stroke-width="1.1"/>
<line x1="393.1" x2="397.1" y1="293.59" y2="293.59" stroke="#666666" stroke-width="1.1"/>
<line x1="678.4" x2="682.4" y1="293.59" y2="293.59" stroke="#666666" stroke-width="1.1"/>
<line x1="393.1" x2="397.1" y1="333.03" y2="333.03" stroke="#666666" stroke-width="1.1"/>
<line x1="678.4" x2="682.4" y1="333.03" y2="333.03" stroke="#666666" stroke-width="1.1"/>
<line x1="393.1" x2="397.1" y1="372.48" y2="372.48" stroke="#666666" stroke-width="1.1"/>
<line x1="678.4" x2="682.4" y1="372.48" y2="372.48" stroke="#666666" stroke-width="1.1"/>
<line x1="393.1" x2="397.1" y1="411.92" y2="411.92" stroke="#666666" stroke-width="1.1"/>
<line x1="678.4" x2="682.4" y1="411.92" y2="411.92" stroke="#666666" stroke-width="1.1"/>
<line x1="393.1" x2="397.1" y1="451.36" y2="451.36" stroke="#666666" stroke-width="1.1"/>
<line x1="678.4" x2="682.4" y1="451.36" y2="451.36" stroke="#666666" stroke-width="1.1"/>
<line x1="393.1" x2="397.1" y1="490.80" y2="490.80" stroke="#666666" stroke-width="1.1"/>
<line x1="678.4" x2="682.4" y1="490.80" y2="490.80" stroke="#666666" stroke-width="1.1"/>
<line x1="464.8" x2="464.8" y1="486.8" y2="490.8" stroke="#666666" stroke-width="1.1"/>
<line x1="464.8" x2="464.8" y1="17.5" y2="21.5" stroke="#666666" stroke-width="1.1"/>
<line x1="537.6" x2="537.6" y1="486.8" y2="490.8" stroke="#666666" stroke-width="1.1"/>
<line x1="537.6" x2="537.6" y1="17.5" y2="21.5" stroke="#666666" stroke-width="1.1"/>
<line x1="610.4" x2="610.4" y1="486.8" y2="490.8" stroke="#666666" stroke-width="1.1"/>
<line x1="610.4" x2="610.4" y1="17.5" y2="21.5" stroke="#666666" stroke-width="1.1"/>
<rect x="393.1" y="17.5" width="289.30" height="473.30" fill="none" stroke="#666666" stroke-width="1.3"/>
<text x="387.8" y="23.20" text-anchor="end" font-size="14">100</text>
<text x="387.8" y="62.64" text-anchor="end" font-size="14">75</text>
<text x="387.8" y="102.08" text-anchor="end" font-size="14">50</text>
<text x="387.8" y="141.52" text-anchor="end" font-size="14">25</text>
<text x="387.8" y="180.97" text-anchor="end" font-size="14">0</text>
<text x="387.8" y="220.41" text-anchor="end" font-size="14">-25</text>
<text x="387.8" y="259.85" text-anchor="end" font-size="14">-50</text>
<text x="387.8" y="299.29" text-anchor="end" font-size="14">-75</text>
<text x="387.8" y="338.73" text-anchor="end" font-size="14">-100</text>
<text x="387.8" y="378.18" text-anchor="end" font-size="14">-125</text>
<text x="387.8" y="417.62" text-anchor="end" font-size="14">-150</text>
<text x="387.8" y="457.06" text-anchor="end" font-size="14">-175</text>
<text x="387.8" y="496.50" text-anchor="end" font-size="14">-200</text>
<text x="464.8" y="509.30" text-anchor="middle" font-size="13.4">MNC</text>
<text x="537.6" y="509.30" text-anchor="middle" font-size="13.4">VEN</text>
<text x="610.4" y="509.30" text-anchor="middle" font-size="13.4">CBY</text>
<text x="537.75" y="11.30" text-anchor="middle" font-size="14.5">Kp=&gt;3</text>
<text x="408.5" y="46" font-size="16.3">(b)</text>
<text transform="translate(356.0,253.7) rotate(-90)" text-anchor="middle" font-size="15">PP amplitudes (nT)</text>
</svg>
</body></html>
